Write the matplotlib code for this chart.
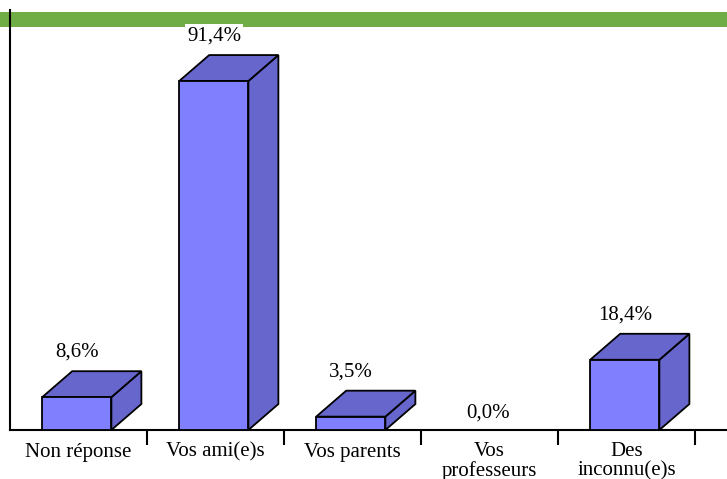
import matplotlib.pyplot as plt
from matplotlib.patches import Polygon, Rectangle

categories = ['Non réponse', 'Vos ami(e)s', 'Vos parents', 'Vos\nprofesseurs', 'Des\ninconnu(e)s']
values = [8.6, 91.4, 3.5, 0.0, 18.4]
labels = ['8,6%', '91,4%', '3,5%', '0,0%', '18,4%']

front_col = '#8080FF'
shade_col = '#6666CC'
green = '#70AD47'

plt.rcParams['font.family'] = ['Liberation Serif', 'DejaVu Serif']

fig = plt.figure(figsize=(7.27, 4.79), dpi=100)
ax = fig.add_axes([10 / 727, 49 / 479, 717 / 727, 420 / 479])
ax.set_xlim(-0.5, -0.5 + 717 / 137)
ax.set_ylim(0, 110)

# bar geometry (front face width and 3D depth)
half_l, half_r = 0.265, 0.24
dx, dy = 0.219, 6.8

for i, v in enumerate(values):
    if v > 0:
        x0, x1 = i - half_l, i + half_r
        front = Polygon([(x0, 0), (x1, 0), (x1, v), (x0, v)], closed=True,
                        facecolor=front_col, edgecolor='black', lw=1.3, zorder=3)
        top = Polygon([(x0, v), (x1, v), (x1 + dx, v + dy), (x0 + dx, v + dy)], closed=True,
                      facecolor=shade_col, edgecolor='black', lw=1.3, zorder=3)
        side = Polygon([(x1, 0), (x1 + dx, dy), (x1 + dx, v + dy), (x1, v)], closed=True,
                       facecolor=shade_col, edgecolor='black', lw=1.3, zorder=3)
        for p in (side, top, front):
            ax.add_patch(p)
        ly = v + dy + 5
    else:
        ly = 4.5
    ax.text(i - 0.01, ly, labels[i], ha='center', va='center', fontsize=15, zorder=4,
            bbox=dict(facecolor='white', edgecolor='none', pad=1.5))

# green band at top
ax.add_patch(Rectangle((0, 1 - 27 / 479), 1, 15 / 479, transform=fig.transFigure,
                       facecolor=green, edgecolor='none', clip_on=False, zorder=1))

# axes styling
for s in ('top', 'right'):
    ax.spines[s].set_visible(False)
ax.spines['left'].set_linewidth(1.5)
ax.spines['bottom'].set_linewidth(1.5)
ax.spines['left'].set_zorder(2.5)
ax.set_yticks([])

ax.set_xticks([i + 0.5 for i in range(len(categories))])
ax.set_xticklabels([])
ax.tick_params(axis='x', which='major', length=11, width=1.5, direction='out')
ax.set_xticks(range(len(categories)), minor=True)
ax.set_xticklabels(categories, minor=True, fontsize=15, linespacing=1.0)
ax.tick_params(axis='x', which='minor', length=0, pad=9)

fig.savefig('out.png', dpi=100)
